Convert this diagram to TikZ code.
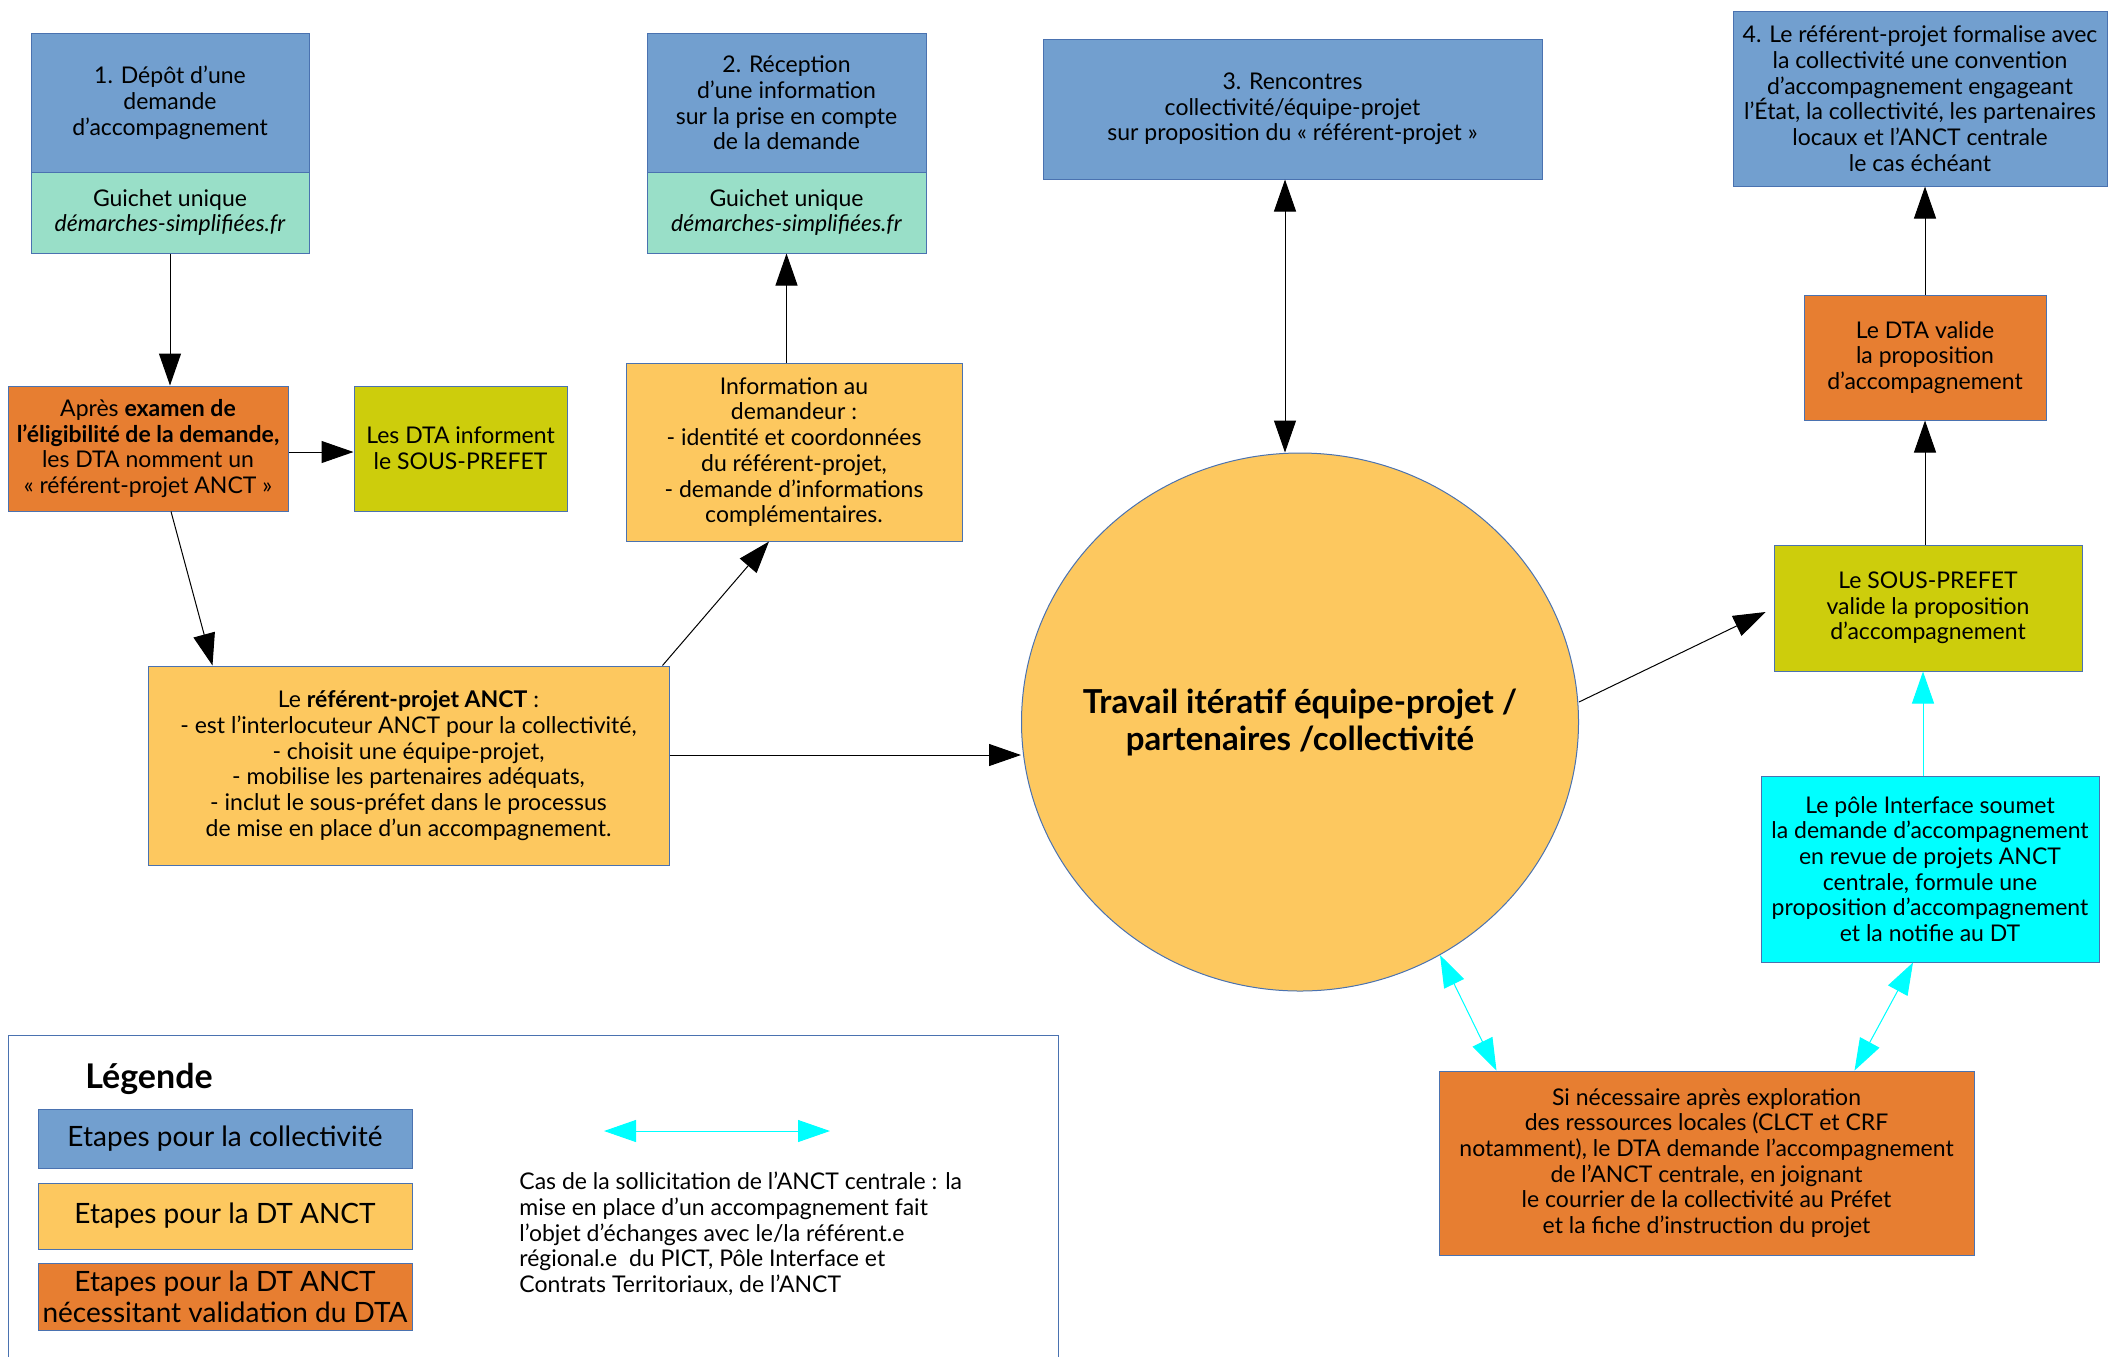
\documentclass[tikz,border=0pt]{standalone}
\usepackage{fontspec}
\setmainfont{Lato}
\usetikzlibrary{arrows.meta,shapes.geometric}

\definecolor{cBleu}{HTML}{729FCF}
\definecolor{cVert}{HTML}{99DFC8}
\definecolor{cOrange}{HTML}{E77E31}
\definecolor{cJaune}{HTML}{FDC85F}
\definecolor{cOlive}{HTML}{CDCD0C}
\definecolor{cCyan}{HTML}{00FFFF}
\definecolor{cBord}{HTML}{4A72B0}

\tikzset{
	etape/.style={draw=cBord, line width=0.5pt, align=center, inner sep=2pt,
		font=\fontsize{11.5}{12.85}\selectfont},
	coll/.style={etape, fill=cBleu},
	guichet/.style={etape, fill=cVert},
	dtanct/.style={etape, fill=cJaune},
	dta/.style={etape, fill=cOrange},
	prefet/.style={etape, fill=cOlive},
	pole/.style={etape, fill=cCyan},
	fleche/.style={-{Triangle[length=16pt,width=11pt]}, line width=0.5pt},
	fleches/.style={{Triangle[length=16pt,width=11pt]}-{Triangle[length=16pt,width=11pt]}, line width=0.5pt},
	flcyan/.style={fleche, draw=cCyan, fill=cCyan},
	flscyan/.style={fleches, draw=cCyan, fill=cCyan}
}

\begin{document}
\begin{tikzpicture}[x=0.5pt, y=-0.5pt]
		\useasboundingbox (0,0) rectangle (2109,1356);
		% collectivite
		\node[coll, minimum width=139pt, minimum height=70pt] (d1) at (170,103) {1. Dépôt d’une\\demande\\d’accompagnement};
		\node[guichet, minimum width=139pt, minimum height=40.5pt] (g1) at (170,212.5) {Guichet unique\\\textit{démarches-simplifiées.fr}};
		\node[coll, minimum width=139.5pt, minimum height=70pt] (d2) at (786.5,103) {2. Réception\\d’une information\\sur la prise en compte\\de la demande};
		\node[guichet, minimum width=139.5pt, minimum height=40.5pt] (g2) at (786.5,212.5) {Guichet unique\\\textit{démarches-simplifiées.fr}};
		\node[coll, minimum width=249.5pt, minimum height=70pt] (d3) at (1292.5,109) {3. Rencontres\\collectivité/équipe-projet\\sur proposition du «~référent-projet~»};
		\node[coll, minimum width=187pt, minimum height=87.5pt] (d4) at (1920,98.5) {4. Le référent-projet formalise avec\\la collectivité une convention\\d’accompagnement engageant\\l’État, la collectivité, les partenaires\\locaux et l’ANCT centrale\\le cas échéant};
		% DT ANCT et DTA
		\node[dta, minimum width=140pt, minimum height=62.5pt] (exa) at (148,448.5) {Après \textbf{examen de}\\\textbf{l’éligibilité de la demande,}\\les DTA nomment un\\«~référent-projet ANCT~»};
		\node[prefet, minimum width=106.5pt, minimum height=62.5pt] (sp1) at (460.5,448.5) {Les DTA informent\\le SOUS-PREFET};
		\node[dtanct, minimum width=168pt, minimum height=89pt] (inf) at (794,452) {Information au\\demandeur :\\- identité et coordonnées\\du référent-projet,\\- demande d’informations\\complémentaires.};
		\node[dtanct, minimum width=260.5pt, minimum height=99.5pt] (ref) at (408.5,765.5) {Le \textbf{référent-projet ANCT} :\\- est l’interlocuteur ANCT pour la collectivité,\\- choisit une équipe-projet,\\- mobilise les partenaires adéquats,\\- inclut le sous-préfet dans le processus\\de mise en place d’un accompagnement.};
		\node[ellipse, draw=cBord, line width=0.5pt, fill=cJaune, minimum width=278.5pt, minimum height=269pt, inner sep=0pt,
			label={[align=center, font=\fontsize{16.5}{18.5}\selectfont\bfseries]center:Travail itératif équipe-projet /\\partenaires /collectivité}] (ell) at (1300,722) {};
		\node[dta, minimum width=121pt, minimum height=62.5pt] (dv) at (1925,357.5) {Le DTA valide\\la proposition\\d’accompagnement};
		\node[prefet, minimum width=154pt, minimum height=63pt] (sp2) at (1928,608) {Le SOUS-PREFET\\valide la proposition\\d’accompagnement};
		\node[pole, minimum width=169pt, minimum height=93pt] (pi) at (1930,869) {Le pôle Interface soumet\\la demande d’accompagnement\\en revue de projets ANCT\\centrale, formule une\\proposition d’accompagnement\\et la notifie au DT};
		\node[dta, minimum width=267.5pt, minimum height=92pt] (ob) at (1706.5,1163) {Si nécessaire après exploration\\des ressources locales (CLCT et CRF\\notamment), le DTA demande l’accompagnement\\de l’ANCT centrale, en joignant\\le courrier de la collectivité au Préfet\\et la fiche d’instruction du projet};
		% connecteurs
		\draw[fleche] (g1.south) -- (g1.south |- exa.north);
		\draw[fleche] ([yshift=-1.75pt]exa.east) -- ([yshift=-1.75pt]exa.east -| sp1.west);
		\draw[fleche] ([xshift=11.5pt]exa.south) -- ([xshift=-98pt]ref.north);
		\draw[fleche] ([xshift=-3.5pt]ref.north east) -- ([xshift=-12.5pt]inf.south);
		\draw[fleche] (g2.south |- inf.north) -- (g2.south);
		\draw[fleche] ([yshift=5.25pt]ref.east) -- ([yshift=-16.5pt]ell.west);
		\draw[fleches] ([xshift=-3.75pt]d3.south) -- ([xshift=-7.5pt]ell.north);
		\draw[fleche] ([yshift=10pt]ell.east) -- ([xshift=-4pt,yshift=-2pt]sp2.west);
		\draw[fleche] (dv.south |- sp2.north) -- (dv.south);
		\draw[fleche] (dv.north) -- (dv.north |- d4.south);
		\draw[flcyan] ([xshift=-2.5pt]sp2.south |- pi.north) -- ([xshift=-2.5pt]sp2.south);
		\draw[flscyan] (ell.-59) -- ([xshift=-105pt]ob.north);
		\draw[flscyan] ([xshift=-8.5pt]pi.south) -- ([xshift=74pt]ob.north);
		% legende
		\draw[cBord, line width=0.5pt] (8,1400) -- (8,1035) -- (1058,1035) -- (1058,1400);
		\node[font=\fontsize{17}{19}\selectfont\bfseries] (leg) at (149,1079) {Légende};
		\node[coll, minimum width=187pt, minimum height=29.5pt, font=\fontsize{14}{15.7}\selectfont] (l1) at (225,1138.5) {Etapes pour la collectivité};
		\node[dtanct, minimum width=187pt, minimum height=33pt, font=\fontsize{14}{15.7}\selectfont] (l2) at (225,1216) {Etapes pour la DT ANCT};
		\node[dta, minimum width=187pt, minimum height=33.5pt, font=\fontsize{14}{15.7}\selectfont, inner sep=0pt] (l3) at (225,1296.5) {Etapes pour la DT ANCT\\nécessitant validation du DTA};
		\coordinate (la) at (604,1131);
		\coordinate (lb) at (830,1131);
		\draw[flscyan] (la) -- (lb);
		\node[anchor=west, align=left, inner sep=0pt, font=\fontsize{11.5}{12.85}\selectfont] (lt) at (519,1234) {Cas de la sollicitation de l’ANCT centrale : la\\mise en place d’un accompagnement fait\\l’objet d’échanges avec le/la référent.e\\régional.e~ du PICT, Pôle Interface et\\Contrats Territoriaux, de l’ANCT};
	\end{tikzpicture}
\end{document}
